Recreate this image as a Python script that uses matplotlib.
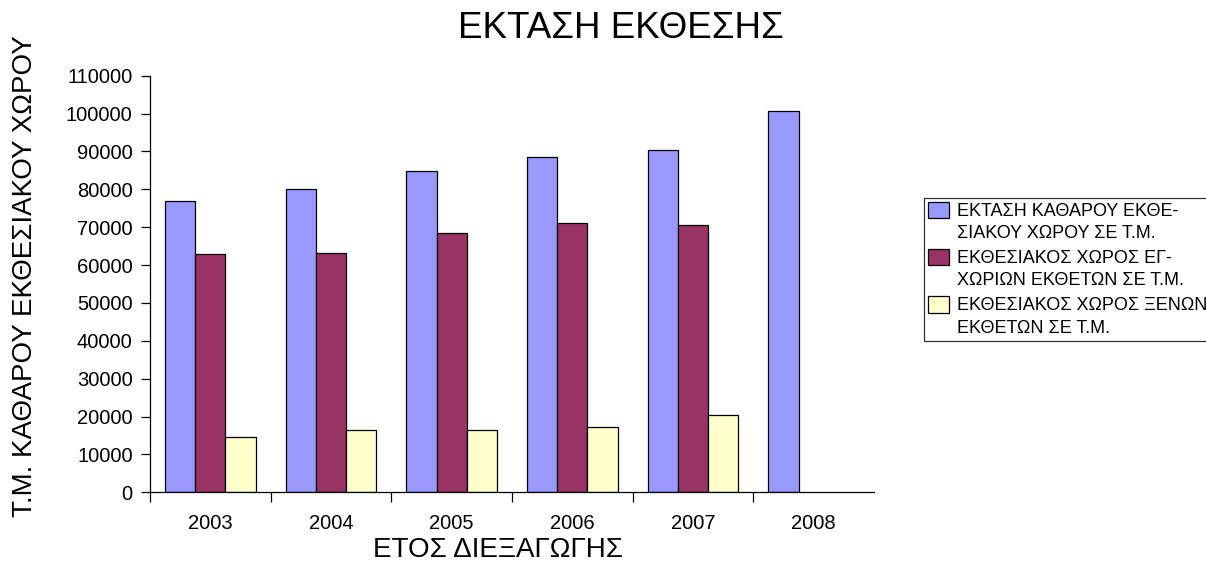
import numpy as np
import matplotlib
matplotlib.use('Agg')
import matplotlib.pyplot as plt
from matplotlib.patches import Rectangle
from matplotlib.container import BarContainer
from matplotlib.legend_handler import HandlerPatch

plt.rcParams['font.family'] = ['Liberation Sans', 'DejaVu Sans']

# data
years = ['2003', '2004', '2005', '2006', '2007', '2008']
net_area = [76900, 80000, 84900, 88600, 90500, 100600]
domestic = [62900, 63300, 68500, 71200, 70700, np.nan]
foreign = [14700, 16400, 16400, 17300, 20500, np.nan]

series_names = ['ΕΚΤΑΣΗ ΚΑΘΑΡΟΥ ΕΚΘΕ-\nΣΙΑΚΟΥ ΧΩΡΟΥ ΣΕ Τ.Μ.',
                'ΕΚΘΕΣΙΑΚΟΣ ΧΩΡΟΣ ΕΓ-\nΧΩΡΙΩΝ ΕΚΘΕΤΩΝ ΣΕ Τ.Μ.',
                'ΕΚΘΕΣΙΑΚΟΣ ΧΩΡΟΣ ΞΕΝΩΝ\nΕΚΘΕΤΩΝ ΣΕ Τ.Μ.']
colors = ['#9999FF', '#993366', '#FFFFCC']

fig = plt.figure(figsize=(12.06, 5.61), dpi=100)
ax = fig.add_axes([0.1244, 0.1225, 0.6003, 0.7426])

x = np.arange(len(years))
w = 0.25
for i, (vals, name, c) in enumerate(zip([net_area, domestic, foreign], series_names, colors)):
    ax.bar(x + (i - 1) * w, vals, w, color=c, edgecolor='black', linewidth=0.9, label=name)

ax.set_xlim(-0.5, len(years) - 0.5)
ax.set_ylim(0, 110000)
ax.set_yticks(np.arange(0, 110001, 10000))
ax.tick_params(axis='y', direction='out', length=6.5, width=0.9, pad=6, labelsize=14.5)

# major ticks between categories, labels on minor ticks at centres
ax.set_xticks(np.arange(-0.5, len(years) - 1, 1.0))
ax.set_xticklabels([])
ax.set_xticks(x, minor=True)
ax.set_xticklabels(years, minor=True)
ax.tick_params(axis='x', which='major', direction='out', length=7, width=0.9)
ax.tick_params(axis='x', which='minor', length=0, pad=16, labelsize=14.5)

for s in ['top', 'right']:
    ax.spines[s].set_visible(False)
for s in ['left', 'bottom']:
    ax.spines[s].set_linewidth(0.9)

ax.set_xlabel('ΕΤΟΣ ΔΙΕΞΑΓΩΓΗΣ', fontsize=20)
ax.xaxis.set_label_coords(0.48, -0.107)
ax.set_ylabel('Τ.Μ. ΚΑΘΑΡΟΥ ΕΚΘΕΣΙΑΚΟΥ ΧΩΡΟΥ', fontsize=20)
ax.yaxis.set_label_coords(-0.155, 0.52)

fig.text(0.515, 0.95, 'ΕΚΤΑΣΗ ΕΚΘΕΣΗΣ', fontsize=26.5, ha='center', va='center')


# legend boxes sit next to the first line of each label
def raised_patch(legend, orig_handle, xdescent, ydescent, width, height, fontsize):
    return Rectangle((-xdescent, -ydescent + 9), width, height)


def copy_style(legend_handle, orig_handle):
    legend_handle.update_from(orig_handle.patches[0])


leg = ax.legend(loc='upper left', bbox_to_anchor=(0.766, 0.647),
                bbox_transform=fig.transFigure, fontsize=13,
                frameon=True, fancybox=False, edgecolor='black',
                borderpad=0.25, labelspacing=0.4, handlelength=1.15,
                handleheight=1.0, handletextpad=0.45, borderaxespad=0,
                handler_map={BarContainer: HandlerPatch(patch_func=raised_patch,
                                                        update_func=copy_style)})
leg.get_frame().set_linewidth(0.9)
for t in leg.get_texts():
    t.set_linespacing(1.45)

fig.savefig('out.png', dpi=100)
